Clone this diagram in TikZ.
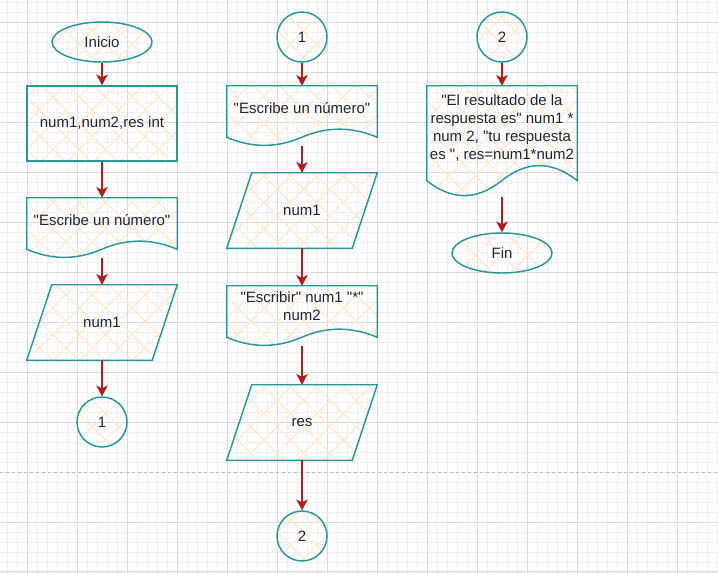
\documentclass[tikz,border=0pt]{standalone}
\usepackage{fontspec}
\setmainfont{Liberation Sans}[Ligatures=TeXOff]
\usetikzlibrary{shapes.geometric,arrows.meta,patterns.meta,calc}
\definecolor{borde}{HTML}{2A9696}
\definecolor{rojo}{HTML}{AD1F1F}
\definecolor{trama}{HTML}{FEEAD4}
\definecolor{texto}{HTML}{1E2630}
\definecolor{rejfina}{HTML}{F0F0F0}
\definecolor{rejgruesa}{HTML}{DADADA}
\definecolor{griscorte}{HTML}{BDBDBD}
\pgfdeclarelayer{fondo}
\pgfsetlayers{fondo,main}
\tikzset{
  relleno/.style={pattern={Hatch[angle=45,distance=14pt,line width=0.9pt]}, pattern color=trama},
  forma/.style={draw=borde, line width=1.1pt, relleno},
  terminal/.style={ellipse, forma, minimum width=75pt, minimum height=30pt, inner sep=0pt},
  conector/.style={circle, forma, minimum size=37.5pt, inner sep=0pt},
  proceso/.style={rectangle, forma, minimum width=112.5pt, minimum height=56.25pt, inner sep=0pt},
  datos/.style={rectangle, minimum width=112.5pt, minimum height=56.25pt, inner sep=0pt},
  docu/.style 2 args={rectangle, minimum width=112.5pt, minimum height=#1, text depth=#2, inner sep=0pt, align=center},
  flecha/.style={draw=rojo, line width=1.1pt, -{Stealth[length=8pt,width=8.5pt,inset=2pt]}},
  rejillafina/.style={draw=rejfina, line width=0.75pt},
  rejilla/.style={draw=rejgruesa, line width=0.75pt},
  corte/.style={draw=griscorte, line width=0.75pt, dash pattern=on 2.25pt off 2.25pt}
}
\begin{document}
\begin{tikzpicture}[x=0.75pt,y=-0.75pt, font=\fontsize{11.25}{13.5}\selectfont, text=texto]
            \useasboundingbox (0,0) rectangle (718,572);
            % Fondo
            \begin{pgfonlayer}{fondo}
            \fill[white] (0,0) rectangle (718,572);
            \foreach \x in {7,17,...,717} \draw[rejillafina] (\x,0) -- (\x,572);
            \foreach \y in {2,12,...,572} \draw[rejillafina] (0,\y) -- (718,\y);
            \foreach \x in {27,77,...,677} \draw[rejilla] (\x,0) -- (\x,572);
            \foreach \y in {22,72,122,172,222,272,322,372,422,522,571} \draw[rejilla] (0,\y) -- (718,\y);
            \draw[corte] (0,472.5) -- (718,472.5);
            \end{pgfonlayer}
            % Columna 1
            \node[terminal] (ini) at (102,42) {Inicio};
            \node[proceso] (decl) at (102,123.5) {num1,num2,res int};
            \node[docu={45pt}{12pt}] (esc1) at (102,228) {"Escribe un número"};
            \node[datos] (lee1) at (102,322.5) {num1};
            \node[conector] (sal1) at (102,422) {1};
            % Columna 2
            \node[conector] (ent1) at (302,37) {1};
            \node[docu={45pt}{12pt}] (esc2) at (302,116) {"Escribe un número"};
            \node[datos] (lee2) at (302,210.5) {num1};
            \node[docu={45pt}{15pt}] (escr) at (302,316) {"Escribir" num1 "*"\\num2};
            \node[datos] (opr) at (302,422.5) {res};
            \node[conector] (sal2) at (302,536) {2};
            % Columna 3
            \node[conector] (ent2) at (502,37) {2};
            \node[docu={83.25pt}{22pt}] (resul) at (502,141.5) {"El resultado de la\\respuesta es" num1 *\\num 2, "tu respuesta\\es ", res=num1*num2};
            \node[terminal] (fin) at (502,253) {Fin};
            % Contornos
            \begin{pgfonlayer}{fondo}
                % Documentos
            \foreach \n/\dy in {esc1/18,esc2/18,escr/18,resul/33.3}
              \draw[forma] (\n.north west) -- (\n.north east) -- ($(\n.south east)+(0,-0.5*\dy)$)
                .. controls ($(\n.south west)+(125,-1.1*\dy)$) and ($(\n.south west)+(100,-1.1*\dy)$) .. ($(\n.south west)+(75,-0.5*\dy)$)
                .. controls ($(\n.south west)+(50,0.1*\dy)$) and ($(\n.south west)+(25,0.1*\dy)$) .. ($(\n.south west)+(0,-0.5*\dy)$) -- cycle;
                % Entrada de datos
            \foreach \n in {lee1,lee2,opr}
              \draw[forma] ($(\n.north west)+(25,0)$) -- (\n.north east) -- ($(\n.south east)+(-25,0)$) -- (\n.south west) -- cycle;
            \end{pgfonlayer}
            % Flechas
            \draw[flecha] (ini.south) -- (decl.north);
            \draw[flecha] (decl.south) -- (esc1.north);
            \draw[flecha] (esc1.south) -- (lee1.north);
            \draw[flecha] (lee1.south) -- (sal1.north);
            \draw[flecha] (ent1.south) -- (esc2.north);
            \draw[flecha] (esc2.south) -- (lee2.north);
            \draw[flecha] (lee2.south) -- (escr.north);
            \draw[flecha] (escr.south) -- (opr.north);
            \draw[flecha] (opr.south) -- (sal2.north);
            \draw[flecha] (ent2.south) -- (resul.north);
            \draw[flecha] (resul.south) -- (fin.north);
\end{tikzpicture}
\end{document}
